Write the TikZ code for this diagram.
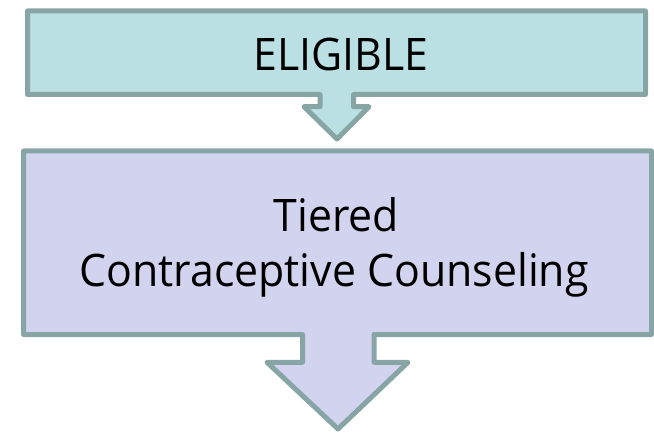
\documentclass[tikz,border=0pt]{standalone}
\usepackage{fontspec}
\setmainfont[FakeStretch=0.955]{Open Sans}
\usepackage{tikz}
\usetikzlibrary{positioning,calc}

\definecolor{tealfill}{HTML}{BBE0E3}
\definecolor{lavfill}{HTML}{D2D3EF}
\definecolor{stepline}{HTML}{88A5A6}

\tikzset{
  stepshape/.style={draw=stepline, line width=5bp, line join=round},
  steplabel/.style={inner sep=0pt, font=\fontsize{45}{55}\selectfont, align=center, text=black}
}

\begin{document}
\begin{tikzpicture}[x=1bp, y=-1bp]
  \useasboundingbox (0,0) rectangle (654,434);
  \def\axtop{337}
  \def\axbot{338}

  % eligible box with its arrow
  \draw[stepshape, fill=tealfill] (27.5,11) -- (645.5,11) -- (645.5,94.5)
    -- (\axtop+16.5,94.5) -- (\axtop+16.5,106.7) -- (\axtop+32,106.7)
    -- (\axtop,139) -- (\axtop-33,106.7) -- (\axtop-17,106.7)
    -- (\axtop-17,94.5) -- (27.5,94.5) -- cycle;

  % counseling box with its arrow
  \draw[stepshape, fill=lavfill] (23.5,151) -- (651.5,151) -- (651.5,334.5)
    -- (\axbot+36,334.5) -- (\axbot+36,362.3) -- (\axbot+70,362.3)
    -- (\axbot,429) -- (\axbot-71,362.3) -- (\axbot-35.5,362.3)
    -- (\axbot-35.5,334.5) -- (23.5,334.5) -- cycle;

  \node[steplabel, anchor=base] (eligible) at (341,71) {ELIGIBLE};
  \node[steplabel, anchor=base] (tiered) at (336.5,232) {Tiered};
  \node[steplabel, anchor=base] (counseling) at (334,287) {Contraceptive Counseling};
\end{tikzpicture}
\end{document}
